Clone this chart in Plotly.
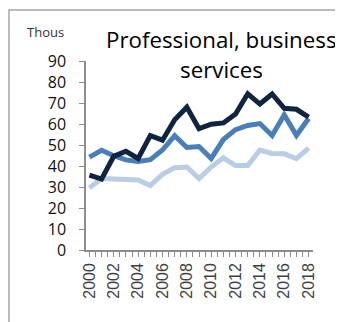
import plotly.graph_objects as go

years = list(range(2000, 2019))
series_dark = [35.7, 33.8, 44.6, 47.0, 43.6, 54.5, 52.3, 62.0, 68.0, 57.8, 59.9, 60.5, 64.8, 74.4, 69.5, 74.3, 67.5, 67.0, 63.3]
series_mid = [44.2, 47.5, 44.9, 42.9, 42.1, 43.0, 47.6, 54.4, 48.8, 49.3, 43.6, 52.6, 57.3, 59.3, 60.2, 54.5, 64.3, 54.6, 62.6]
series_light = [29.6, 34.0, 33.8, 33.6, 33.3, 30.7, 36.0, 39.2, 39.5, 34.0, 39.5, 43.9, 40.2, 40.2, 47.6, 46.0, 45.8, 43.5, 48.5]
x_ticks = list(range(2000, 2019, 2))
y_ticks = list(range(0, 100, 10))

colors = {"dark": "#10243f", "mid": "#4a7ebb", "light": "#b9cde5"}

fig = go.Figure()
for vals, c in [(series_light, colors["light"]), (series_mid, colors["mid"]), (series_dark, colors["dark"])]:
    fig.add_trace(go.Scatter(x=years, y=vals, mode="lines",
                             line=dict(color=c, width=5), hoverinfo="skip"))

OFF = 8  # default page body margin
W, H = 343 - OFF, 322 - OFF
L, T = 86 - OFF, 61 - OFF
R = W - (313 - OFF)
B = H - (250 - OFF)
pw, ph = W - L - R, H - T - B

def px_x(p):
    return (p - OFF - L) / pw

def px_y(p):
    return (H - B - (p - OFF)) / ph

fig.update_layout(
    width=W, height=H,
    margin=dict(l=L, r=R, t=T, b=B, pad=0),
    paper_bgcolor="white", plot_bgcolor="white",
    showlegend=False,
    xaxis=dict(
        range=[1999.72, 2018.36],
        tickmode="array", tickvals=x_ticks, ticktext=[str(v) for v in x_ticks],
        tickangle=-90,
        showgrid=False, zeroline=False,
        showline=True, linecolor="#8c8c8c", linewidth=1.5,
        ticks="outside", ticklen=5, tickcolor="#8c8c8c", tickwidth=1,
        minor=dict(ticks="outside", ticklen=5, tickcolor="#8c8c8c", dtick=0.5, tick0=2000, showgrid=False),
        tickfont=dict(family="Liberation Sans, Arial", size=16, color="#404040"),
        fixedrange=True,
    ),
    yaxis=dict(
        range=[0, 90],
        tickmode="array", tickvals=y_ticks,
        showgrid=False, zeroline=False,
        showline=True, linecolor="#8c8c8c", linewidth=1.5,
        ticks="outside", ticklen=5, tickcolor="#8c8c8c", tickwidth=1,
        ticklabelstandoff=10,
        tickfont=dict(family="Open Sans, Noto Sans", size=16, color="#111111"),
        fixedrange=True,
    ),
    annotations=[
        dict(text="Professional, business", x=px_x(221.5), y=px_y(50), xref="paper", yref="paper",
             xanchor="center", yanchor="bottom", showarrow=False, yshift=-7,
             font=dict(family="Open Sans, Noto Sans", size=22.3, color="#000000")),
        dict(text="services", x=px_x(221.5), y=px_y(80), xref="paper", yref="paper",
             xanchor="center", yanchor="bottom", showarrow=False, yshift=-7,
             font=dict(family="Open Sans, Noto Sans", size=22.3, color="#000000")),
        dict(text="Thous", x=px_x(45), y=px_y(32), xref="paper", yref="paper",
             xanchor="center", yanchor="middle", showarrow=False,
             font=dict(family="Open Sans, Noto Sans", size=13, color="#333333")),
    ],
    shapes=[
        dict(type="path", xref="paper", yref="paper",
             path=f"M {px_x(9)},{px_y(340)} L {px_x(9)},{px_y(10)} L {px_x(360)},{px_y(10)}",
             line=dict(color="#a6a6a6", width=1.5)),
    ],
)

fig.write_html("out.html", config={"displayModeBar": False})
